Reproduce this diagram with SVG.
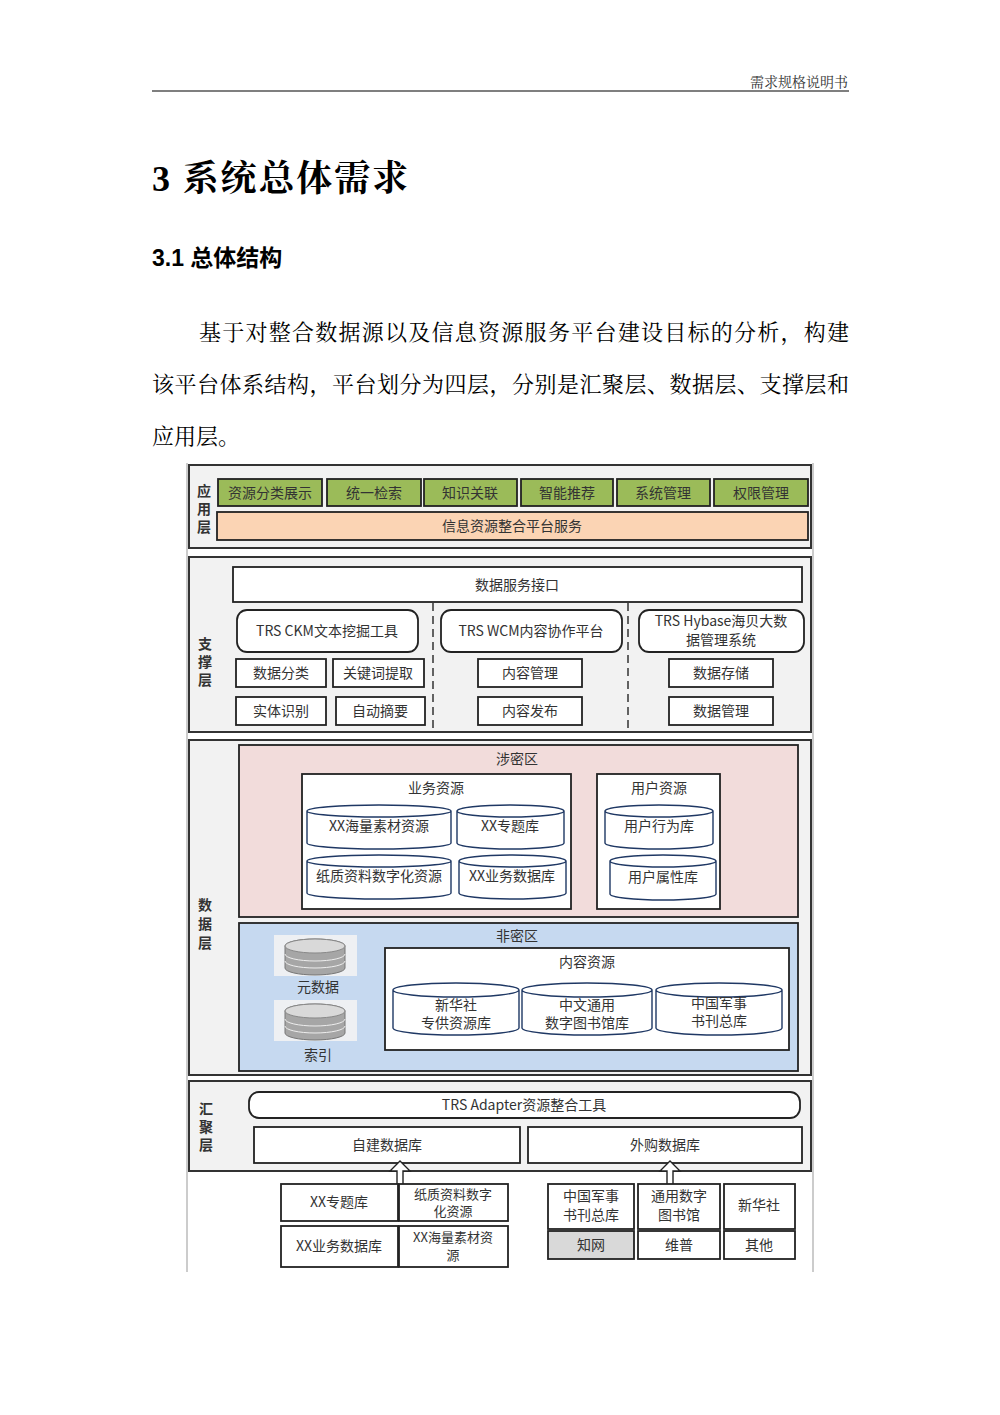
<svg xmlns="http://www.w3.org/2000/svg" width="1000" height="1415" viewBox="0 0 1000 1415">
<style>
.s{font-family:"Liberation Serif","Noto Serif CJK SC","Noto Sans CJK SC",serif}
.t{font-family:"Noto Sans CJK SC",sans-serif;font-size:14px;fill:#333;text-anchor:middle}
.t2{font-family:"Noto Sans CJK SC",sans-serif;font-size:13px;fill:#333;text-anchor:middle}
.lb{font-family:"Noto Sans CJK SC",sans-serif;font-size:14px;font-weight:bold;fill:#333;text-anchor:middle}
.lay{fill:#f2f2f2;stroke:#333;stroke-width:2}
.bx{fill:#fff;stroke:#222;stroke-width:1.8}
.g{fill:#9bbb59;stroke:#222;stroke-width:1.8}
.cy{fill:#fff;stroke:#1f3864;stroke-width:1.4}
</style>
<rect width="1000" height="1415" fill="#fff"/>
<text x="848" y="87" class="s" font-size="14" text-anchor="end" fill="#333">需求规格说明书</text>
<line x1="152" y1="91" x2="849" y2="91" stroke="#000" stroke-width="1.2"/>
<text x="152" y="191" class="s" font-size="36" font-weight="bold" textLength="256" lengthAdjust="spacing">3  系统总体需求</text>
<text x="152" y="266" font-family="Liberation Sans,'Noto Sans CJK SC',sans-serif" font-size="23" font-weight="bold">3.1 总体结构</text>
<text x="199" y="340" class="s" font-size="22" textLength="650" lengthAdjust="spacing">基于对整合数据源以及信息资源服务平台建设目标的分析，构建</text>
<text x="152" y="392" class="s" font-size="22" textLength="697" lengthAdjust="spacing">该平台体系结构，平台划分为四层，分别是汇聚层、数据层、支撑层和</text>
<text x="152" y="444" class="s" font-size="22">应用层。</text>
<line x1="187" y1="463" x2="187" y2="1272" stroke="#ccc" stroke-width="2"/>
<line x1="813" y1="463" x2="813" y2="1272" stroke="#ccc" stroke-width="2"/>
<g id="app">
<rect class="lay" x="189" y="465" width="622" height="83"/>
<text class="lb" x="204" y="496">应</text><text class="lb" x="204" y="514">用</text><text class="lb" x="204" y="532">层</text>
<rect class="g" x="218" y="479" width="104" height="27"/><text class="t" x="270" y="498">资源分类展示</text>
<rect class="g" x="327" y="479" width="94" height="27"/><text class="t" x="374" y="498">统一检索</text>
<rect class="g" x="424" y="479" width="93" height="27"/><text class="t" x="470" y="498">知识关联</text>
<rect class="g" x="521" y="479" width="92" height="27"/><text class="t" x="567" y="498">智能推荐</text>
<rect class="g" x="617" y="479" width="93" height="27"/><text class="t" x="663" y="498">系统管理</text>
<rect class="g" x="714" y="479" width="94" height="27"/><text class="t" x="761" y="498">权限管理</text>
<rect x="217" y="512" width="591" height="28" fill="#fbd4b4" stroke="#222" stroke-width="1.8"/><text class="t" x="512" y="531">信息资源整合平台服务</text>
</g>
<g id="support">
<rect class="lay" x="189" y="557" width="622" height="175"/>
<text class="lb" x="205" y="649">支</text><text class="lb" x="205" y="667">撑</text><text class="lb" x="205" y="685">层</text>
<rect class="bx" x="233" y="567" width="569" height="35"/><text class="t" x="517" y="590">数据服务接口</text>
<line x1="433" y1="603" x2="433" y2="730" stroke="#333" stroke-width="1.5" stroke-dasharray="8,5"/>
<line x1="628" y1="603" x2="628" y2="730" stroke="#333" stroke-width="1.5" stroke-dasharray="8,5"/>
<rect class="bx" x="237" y="610" width="181" height="42" rx="10"/><text class="t" x="327" y="636">TRS CKM文本挖掘工具</text>
<rect class="bx" x="441" y="610" width="181" height="42" rx="10"/><text class="t" x="531" y="636">TRS WCM内容协作平台</text>
<rect class="bx" x="639" y="610" width="165" height="42" rx="10"/><text class="t" x="721" y="626">TRS Hybase海贝大数</text><text class="t" x="721" y="645">据管理系统</text>
<rect class="bx" x="236" y="659" width="90" height="28"/><text class="t" x="281" y="678">数据分类</text>
<rect class="bx" x="333" y="659" width="91" height="28"/><text class="t" x="378" y="678">关键词提取</text>
<rect class="bx" x="478" y="659" width="104" height="28"/><text class="t" x="530" y="678">内容管理</text>
<rect class="bx" x="669" y="659" width="104" height="28"/><text class="t" x="721" y="678">数据存储</text>
<rect class="bx" x="236" y="697" width="90" height="28"/><text class="t" x="281" y="716">实体识别</text>
<rect class="bx" x="336" y="697" width="89" height="28"/><text class="t" x="380" y="716">自动摘要</text>
<rect class="bx" x="478" y="697" width="104" height="28"/><text class="t" x="530" y="716">内容发布</text>
<rect class="bx" x="669" y="697" width="104" height="28"/><text class="t" x="721" y="716">数据管理</text>
</g>
<g id="data">
<rect class="lay" x="189" y="740" width="622" height="335"/>
<text class="lb" x="205" y="910">数</text><text class="lb" x="205" y="929">据</text><text class="lb" x="205" y="948">层</text>
<rect x="239" y="745" width="559" height="172" fill="#f2dcdb" stroke="#222" stroke-width="1.8"/><text class="t" x="517" y="764">涉密区</text>
<rect class="bx" x="302" y="774" width="269" height="135"/><text class="t" x="436" y="793">业务资源</text>
<rect class="bx" x="597" y="774" width="123" height="135"/><text class="t" x="659" y="793">用户资源</text>
<path class="cy" d="M307 811 a72 6 0 0 1 144 0 v32 a72 6 0 0 1 -144 0 z M307 811 a72 6 0 0 0 144 0"/><text class="t" x="379" y="831">XX海量素材资源</text>
<path class="cy" d="M457 811 a53.5 6 0 0 1 107 0 v32 a53.5 6 0 0 1 -107 0 z M457 811 a53.5 6 0 0 0 107 0"/><text class="t" x="510" y="831">XX专题库</text>
<path class="cy" d="M307 861 a72 6 0 0 1 144 0 v32 a72 6 0 0 1 -144 0 z M307 861 a72 6 0 0 0 144 0"/><text class="t" x="379" y="881">纸质资料数字化资源</text>
<path class="cy" d="M459 861 a53.5 6 0 0 1 107 0 v32 a53.5 6 0 0 1 -107 0 z M459 861 a53.5 6 0 0 0 107 0"/><text class="t" x="512" y="881">XX业务数据库</text>
<path class="cy" d="M605 811 a54 6 0 0 1 108 0 v32 a54 6 0 0 1 -108 0 z M605 811 a54 6 0 0 0 108 0"/><text class="t" x="659" y="831">用户行为库</text>
<path class="cy" d="M610 861 a53 6 0 0 1 106 0 v33 a53 6 0 0 1 -106 0 z M610 861 a53 6 0 0 0 106 0"/><text class="t" x="663" y="882">用户属性库</text>
<rect x="239" y="923" width="559" height="148" fill="#c6d9f0" stroke="#222" stroke-width="1.8"/><text class="t" x="517" y="941">非密区</text>
<rect class="bx" x="385" y="948" width="404" height="102"/><text class="t" x="587" y="967">内容资源</text>
<path class="cy" d="M393 990 a63 7 0 0 1 126 0 v38 a63 7 0 0 1 -126 0 z M393 990 a63 7 0 0 0 126 0"/><text class="t" x="456" y="1010">新华社</text><text class="t" x="456" y="1028">专供资源库</text>
<path class="cy" d="M522 990 a65 7 0 0 1 130 0 v38 a65 7 0 0 1 -130 0 z M522 990 a65 7 0 0 0 130 0"/><text class="t" x="587" y="1010">中文通用</text><text class="t" x="587" y="1028">数字图书馆库</text>
<path class="cy" d="M656 990 a63 7 0 0 1 126 0 v38 a63 7 0 0 1 -126 0 z M656 990 a63 7 0 0 0 126 0"/><text class="t" x="719" y="1008">中国军事</text><text class="t" x="719" y="1026">书刊总库</text>
<g id="db1">
<rect x="274" y="935" width="83" height="41" fill="#eef0f3"/>
<path d="M285 946 a30 7 0 0 1 60 0 v22 a30 7 0 0 1 -60 0 z" fill="#a6a6a6" stroke="#777"/>
<ellipse cx="315" cy="946" rx="30" ry="7" fill="#d9d9d9" stroke="#888"/>
<path d="M285 954 a30 7 0 0 0 60 0 M285 961 a30 7 0 0 0 60 0" fill="none" stroke="#eee"/>
</g>
<text class="t" x="318" y="992">元数据</text>
<g id="db2">
<rect x="274" y="1000" width="83" height="41" fill="#eef0f3"/>
<path d="M285 1011 a30 7 0 0 1 60 0 v22 a30 7 0 0 1 -60 0 z" fill="#a6a6a6" stroke="#777"/>
<ellipse cx="315" cy="1011" rx="30" ry="7" fill="#d9d9d9" stroke="#888"/>
<path d="M285 1019 a30 7 0 0 0 60 0 M285 1026 a30 7 0 0 0 60 0" fill="none" stroke="#eee"/>
</g>
<text class="t" x="318" y="1060">索引</text>
</g>
<g id="agg">
<rect class="lay" x="189" y="1081" width="622" height="90"/>
<text class="lb" x="206" y="1114">汇</text><text class="lb" x="206" y="1132">聚</text><text class="lb" x="206" y="1150">层</text>
<rect class="bx" x="249" y="1092" width="551" height="26" rx="10"/><text class="t" x="524" y="1110">TRS Adapter资源整合工具</text>
<rect class="bx" x="254" y="1127" width="266" height="36"/><text class="t" x="387" y="1150">自建数据库</text>
<rect class="bx" x="528" y="1127" width="274" height="36"/><text class="t" x="665" y="1150">外购数据库</text>
</g>
<g id="connectors" fill="#fff" stroke="#222" stroke-width="1.4">
<path d="M397 1185 v-14 h-7 l10 -10 l10 10 h-7 v14 z"/>
<path d="M667 1185 v-14 h-7 l10 -10 l10 10 h-7 v14 z"/>
</g>
<g id="src-self">
<rect class="bx" x="281" y="1184" width="117" height="37"/><text class="t" x="339" y="1207">XX专题库</text>
<rect class="bx" x="399" y="1184" width="109" height="37"/><text class="t2" x="453" y="1199">纸质资料数字</text><text class="t2" x="453" y="1216">化资源</text>
<rect class="bx" x="281" y="1226" width="117" height="41"/><text class="t" x="339" y="1251">XX业务数据库</text>
<rect class="bx" x="399" y="1226" width="109" height="41"/><text class="t2" x="453" y="1242">XX海量素材资</text><text class="t2" x="453" y="1260">源</text>
</g>
<g id="src-buy">
<rect class="bx" x="548" y="1184" width="86" height="45"/><text class="t" x="591" y="1201">中国军事</text><text class="t" x="591" y="1220">书刊总库</text>
<rect class="bx" x="638" y="1184" width="82" height="45"/><text class="t" x="679" y="1201">通用数字</text><text class="t" x="679" y="1220">图书馆</text>
<rect class="bx" x="724" y="1184" width="71" height="45"/><text class="t" x="759" y="1210">新华社</text>
<rect x="548" y="1231" width="86" height="28" fill="#d9d9d9" stroke="#222" stroke-width="1.8"/><text class="t" x="591" y="1250">知网</text>
<rect class="bx" x="638" y="1231" width="82" height="28"/><text class="t" x="679" y="1250">维普</text>
<rect class="bx" x="724" y="1231" width="71" height="28"/><text class="t" x="759" y="1250">其他</text>
</g>
</svg>
